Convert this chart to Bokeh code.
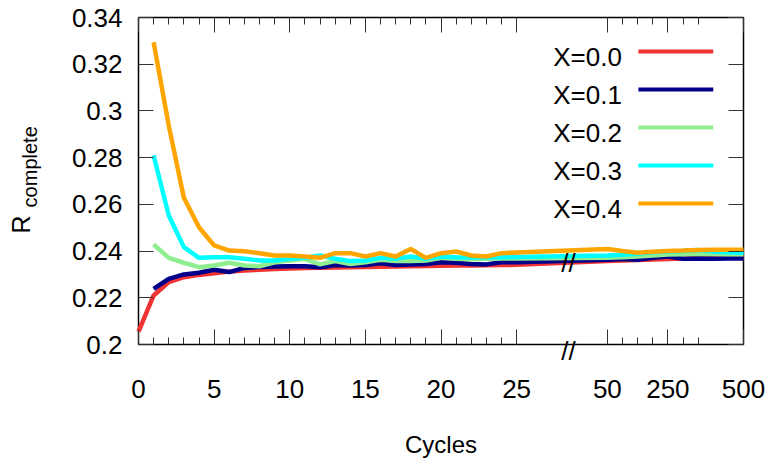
import math
from bokeh.plotting import figure
from bokeh.models import FixedTicker, LinearAxis, Label, Range1d, CustomLabelingPolicy
from bokeh.embed import file_html
from bokeh.resources import INLINE

FONT = "Liberation Sans"

# ---- data ----
cycles_early = list(range(0, 26))
cycles_late = [50, 100, 150, 200, 250, 300, 350, 400, 450, 500]

r_x00_early = [0.2055, 0.2210, 0.2267, 0.2288, 0.2298, 0.2305, 0.2312, 0.2317, 0.2320, 0.2323,
               0.2325, 0.2327, 0.2329, 0.2330, 0.2331, 0.2332, 0.2333, 0.2334, 0.2335, 0.2336,
               0.2337, 0.2338, 0.2338, 0.2339, 0.2340, 0.2341]
r_x00_late = [0.2357, 0.2360, 0.2362, 0.2364, 0.2366, 0.2368, 0.2369, 0.2370, 0.2371, 0.2372]

r_x01_early = [None, 0.2238, 0.2281, 0.2300, 0.2307, 0.2320, 0.2310, 0.2328, 0.2332, 0.2334,
               0.2335, 0.2335, 0.2331, 0.2340, 0.2338, 0.2340, 0.2348, 0.2340, 0.2343, 0.2345,
               0.2352, 0.2350, 0.2345, 0.2343, 0.2352, 0.2352]
r_x01_late = [0.2363, 0.2366, 0.2363, 0.2371, 0.2377, 0.2367, 0.2368, 0.2367, 0.2368, 0.2368]

r_x02_early = [None, 0.2428, 0.2371, 0.2350, 0.2331, 0.2338, 0.2350, 0.2338, 0.2335, 0.2352,
               0.2360, 0.2367, 0.2343, 0.2357, 0.2345, 0.2352, 0.2363, 0.2357, 0.2357, 0.2360,
               0.2371, 0.2367, 0.2365, 0.2367, 0.2368, 0.2368]
r_x02_late = [0.2371, 0.2374, 0.2377, 0.2381, 0.2385, 0.2386, 0.2388, 0.2387, 0.2386, 0.2386]

r_x03_early = [None, 0.2809, 0.2552, 0.2417, 0.2371, 0.2374, 0.2374, 0.2367, 0.2360, 0.2360,
               0.2367, 0.2371, 0.2381, 0.2367, 0.2357, 0.2360, 0.2371, 0.2367, 0.2377, 0.2367,
               0.2377, 0.2374, 0.2372, 0.2373, 0.2374, 0.2375]
r_x03_late = [0.2381, 0.2384, 0.2388, 0.2395, 0.2398, 0.2400, 0.2405, 0.2398, 0.2395, 0.2393]

r_x04_early = [None, 0.3294, 0.2937, 0.2628, 0.2502, 0.2424, 0.2402, 0.2399, 0.2391, 0.2381,
               0.2381, 0.2377, 0.2371, 0.2391, 0.2391, 0.2377, 0.2391, 0.2377, 0.2409, 0.2371,
               0.2391, 0.2398, 0.2381, 0.2377, 0.2391, 0.2394]
r_x04_late = [0.2409, 0.2400, 0.2393, 0.2397, 0.2400, 0.2402, 0.2405, 0.2406, 0.2406, 0.2406]

series_names = ["X=0.0", "X=0.1", "X=0.2", "X=0.3", "X=0.4"]
series_colors = ["#f03232", "#00008b", "#90ee90", "#00ffff", "#ffa500"]
series_early = [r_x00_early, r_x01_early, r_x02_early, r_x03_early, r_x04_early]
series_late = [r_x00_late, r_x01_late, r_x02_late, r_x03_late, r_x04_late]

x_tick_cycles = [0, 5, 10, 15, 20, 25, 50, 250, 500]
x_minor_cycles = list(range(0, 26)) + [100, 150, 200, 300, 350]
y_ticks = [0.2, 0.22, 0.24, 0.26, 0.28, 0.3, 0.32, 0.34]

X_LO, X_HI = 0, 40          # drawn axis extent (axis units)
Y_LO, Y_HI = 0.2, 0.34
BREAK_POS = 28.43


def axis_pos(c):
    # broken axis: linear up to 25, then 50 cycles per unit after the break
    return c if c <= 25 else 30 + c / 50.0


# the frame covers the whole canvas; the drawn box sits inside it so that
# tick labels, titles and break marks outside the box are not clipped
p = figure(width=769, height=462, output_backend="svg", toolbar_location=None,
           x_range=Range1d(-9.124, 41.719), y_range=Range1d(0.14948, 0.34728),
           min_border_left=0, min_border_right=0, min_border_top=0,
           min_border_bottom=0, background_fill_color="white")
p.grid.visible = False
p.outline_line_color = None

xt = [axis_pos(c) for c in x_tick_cycles]
xm = [axis_pos(c) for c in x_minor_cycles]
x_ticker = FixedTicker(ticks=xt, minor_ticks=xm)
y_ticker = FixedTicker(ticks=y_ticks, minor_ticks=[])
no_labels = CustomLabelingPolicy(code="for (const i of indices) indices.unset(i)")


def style_axis(ax, labels=True):
    ax.axis_line_color = None
    ax.major_tick_in = 15
    ax.major_tick_out = 0
    ax.minor_tick_in = 7
    ax.minor_tick_out = 0
    ax.major_tick_line_color = "#333333"
    ax.minor_tick_line_color = "#333333"
    ax.major_tick_line_width = 1
    ax.minor_tick_line_width = 1
    ax.major_label_text_font = FONT
    ax.major_label_text_color = "black"
    ax.major_label_text_font_size = "26px"
    if not labels:
        ax.major_label_policy = no_labels
        ax.major_label_standoff = 0


xa = p.xaxis[0]
xa.ticker = x_ticker
xa.fixed_location = Y_LO
xa.major_label_overrides = {axis_pos(c): str(c) for c in x_tick_cycles}
style_axis(xa)
xa.major_label_standoff = 35

ya = p.yaxis[0]
ya.ticker = y_ticker
ya.fixed_location = X_LO
ya.major_label_overrides = {v: f"{v:g}" for v in y_ticks}
style_axis(ya)
ya.major_label_standoff = 16

top = LinearAxis(ticker=x_ticker, fixed_location=Y_HI)
style_axis(top, labels=False)
p.add_layout(top, "above")
right = LinearAxis(ticker=y_ticker, fixed_location=X_HI)
style_axis(right, labels=False)
p.add_layout(right, "right")

# plot box
p.quad(left=X_LO, right=X_HI, bottom=Y_LO, top=Y_HI, fill_color=None,
       line_color="black", line_width=1.5)

for name, color, early, late in zip(series_names, series_colors, series_early, series_late):
    xs, ys = [], []
    for c, v in zip(cycles_early, early):
        if v is not None:
            xs.append(axis_pos(c))
            ys.append(v)
    for c, v in zip(cycles_late, late):
        xs.append(axis_pos(c))
        ys.append(v)
    p.line(xs, ys, line_color=color, line_width=4.5)

# break marks
p.add_layout(Label(x=BREAK_POS, y=0.2351, text="//", text_font=FONT, text_font_size="26px",
                   text_align="center", text_baseline="middle", text_color="black"))
p.add_layout(Label(x=BREAK_POS, y=0.1974, text="//", text_font=FONT, text_font_size="26px",
                   text_align="center", text_baseline="middle", text_color="black"))

# legend (text left, sample right)
LEG_TEXT_X = 31.96
LEG_LINE_X0 = 33.05
LEG_LINE_X1 = 38.0
LEG_Y0 = 0.3254
LEG_DY = 0.01627
for i, (name, color) in enumerate(zip(series_names, series_colors)):
    yy = LEG_Y0 - i * LEG_DY
    p.add_layout(Label(x=LEG_TEXT_X, y=yy - 0.0023, text=name, text_font=FONT,
                       text_font_size="26px", text_align="right", text_baseline="middle",
                       text_color="black"))
    p.line([LEG_LINE_X0, LEG_LINE_X1], [yy, yy], line_color=color, line_width=4)

# x-axis title, centred under the box
p.add_layout(Label(x=(X_LO + X_HI) / 2, y=0.1572, text="Cycles", text_font=FONT,
                   text_font_size="24px", text_align="center", text_baseline="middle",
                   text_color="black"))

# y-axis title with subscript
p.add_layout(Label(x=-7.77, y=0.2475, text="R", text_font=FONT, text_font_size="25px",
                   angle=math.pi / 2, text_align="left", text_baseline="middle",
                   text_color="black"))
p.add_layout(Label(x=-7.2, y=0.2587, text="complete", text_font=FONT, text_font_size="20px",
                   angle=math.pi / 2, text_align="left", text_baseline="middle",
                   text_color="black"))

open("out.html", "w").write(file_html(p, INLINE))
